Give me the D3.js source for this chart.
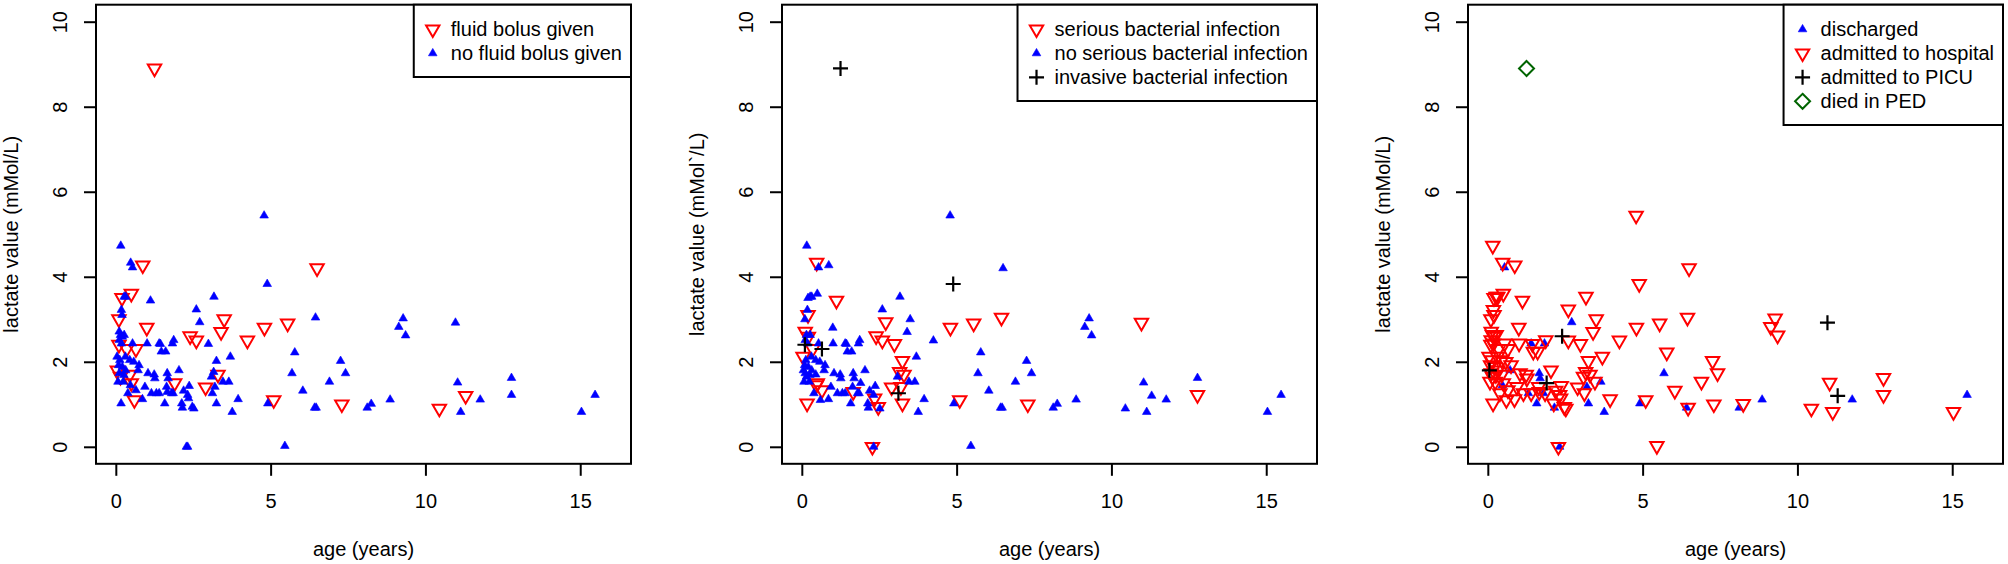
<!DOCTYPE html>
<html>
<head>
<meta charset="utf-8">
<script src="https://cdn.jsdelivr.net/npm/d3@7"></script>
<style>
  body { margin: 0; background: #fff; }
  text { font-family: "Liberation Sans", Arial, sans-serif; }
</style>
</head>
<body>
<svg id="chart" width="2008" height="564"></svg>
<script>
// one entry per patient
const age = [
  1.25, 0.87, 6.5, 0.5, 0.2, 0.1, 1.0, 3.5, 3.4, 4.8,
  5.55, 2.4, 2.6, 4.25, 0.1, 0.35, 0.65, 0.05, 0.15, 0.45,
  0.5, 0.6, 1.9, 2.9, 3.3, 5.1, 7.3, 10.45, 11.3,
  0.16, 0.48, 0.54, 4.79, 4.89, 1.12, 0.27, 0.32, 0.18, 0.2,
  3.17, 2.6, 2.71, 6.45, 0.11, 0.15, 0.21, 0.27, 0.11, 0.18,
  0.54, 1.01, 1.4, 1.44, 1.87, 1.83, 1.47, 1.61, 2.99, 5.78,
  3.25, 3.7, 0.04, 0.13, 0.31, 0.45, 0.58, 0.75, 0.72, 0.09,
  0.21, 0.11, 0.26, 0.32, 0.07, 0.24, 0.47, 0.65, 0.39, 0.17,
  0.86, 0.94, 1.04, 1.24, 1.26, 1.15, 1.31, 1.4, 1.58, 1.66,
  1.69, 1.64, 1.66, 1.8, 1.85, 2.04, 2.13, 2.15, 2.19, 2.37,
  2.35, 2.47, 2.52, 2.32, 2.28, 2.32, 3.09, 3.16, 3.12, 3.25,
  3.2, 3.46, 3.65, 3.95, 3.76, 4.91, 5.46, 5.69, 6.04, 6.42,
  6.47, 6.9, 7.26, 7.42, 8.12, 8.25, 8.86, 9.14, 9.28, 9.36,
  10.97, 11.04, 11.14, 11.77, 12.78, 12.78, 15.04, 15.48
];
const lactate = [
  8.9, 4.27, 4.2, 3.6, 3.5, 3.0, 2.8, 3.0, 2.7, 2.8,
  2.9, 2.6, 2.5, 2.5, 2.4, 2.3, 2.3, 1.8, 1.65, 1.7,
  1.5, 1.1, 1.5, 1.4, 1.7, 1.1, 1.0, 0.9, 1.2,
  4.73, 4.33, 4.22, 5.44, 3.83, 3.44, 3.53, 3.53, 3.22, 3.1,
  3.53, 3.23, 2.93, 3.04, 2.71, 2.63, 2.59, 2.63, 2.51, 2.43,
  2.43, 2.43, 2.43, 2.42, 2.51, 2.43, 2.24, 2.24, 2.42, 2.22,
  2.02, 2.12, 2.12, 2.04, 2.12, 2.04, 2.0, 1.92, 1.8, 1.92,
  1.88, 1.73, 1.69, 1.8, 1.53, 1.53, 1.45, 1.33, 1.26, 1.02,
  1.12, 1.41, 1.73, 1.7, 1.61, 1.26, 1.26, 1.26, 1.02, 1.73,
  1.61, 1.41, 1.29, 1.26, 1.26, 1.8, 1.02, 0.92, 1.32, 1.43,
  1.14, 0.94, 0.9, 1.22, 0.0, 0.0, 1.65, 1.76, 1.26, 1.02,
  1.41, 1.53, 1.53, 1.12, 0.82, 1.02, 0.02, 1.73, 1.32, 0.92,
  0.92, 1.53, 2.02, 1.73, 0.92, 1.01, 1.11, 2.82, 3.02, 2.62,
  2.92, 1.51, 0.82, 1.11, 1.62, 1.22, 0.82, 1.22
];
// 0 = fluid bolus given, 1 = no fluid bolus given
const bolus = [
  0, 0, 0, 0, 0, 0, 0, 0, 0, 0,
  0, 0, 0, 0, 0, 0, 0, 0, 0, 0,
  0, 0, 0, 0, 0, 0, 0, 0, 0,
  1, 1, 1, 1, 1, 1, 1, 1, 1, 1,
  1, 1, 1, 1, 1, 1, 1, 1, 1, 1,
  1, 1, 1, 1, 1, 1, 1, 1, 1, 1,
  1, 1, 1, 1, 1, 1, 1, 1, 1, 1,
  1, 1, 1, 1, 1, 1, 1, 1, 1, 1,
  1, 1, 1, 1, 1, 1, 1, 1, 1, 1,
  1, 1, 1, 1, 1, 1, 1, 1, 1, 1,
  1, 1, 1, 1, 1, 1, 1, 1, 1, 1,
  1, 1, 1, 1, 1, 1, 1, 1, 1, 1,
  1, 1, 1, 1, 1, 1, 1, 1, 1, 1,
  1, 1, 1, 1, 1, 1, 1, 1
];
// 0 = serious, 1 = no serious, 2 = invasive bacterial infection
const infection = [
  2, 1, 1, 1, 1, 1, 1, 1, 1, 0,
  0, 0, 0, 1, 2, 0, 2, 1, 1, 1,
  0, 1, 1, 0, 0, 0, 0, 1, 1,
  1, 0, 1, 1, 2, 0, 1, 1, 1, 0,
  1, 1, 0, 0, 0, 1, 0, 1, 1, 1,
  1, 1, 1, 1, 1, 1, 1, 1, 0, 1,
  0, 1, 0, 1, 1, 1, 1, 1, 1, 1,
  1, 1, 1, 1, 1, 1, 0, 0, 1, 0,
  1, 1, 1, 1, 1, 1, 1, 1, 1, 1,
  1, 1, 0, 1, 1, 1, 1, 1, 1, 1,
  0, 0, 1, 1, 0, 1, 1, 0, 2, 0,
  0, 1, 1, 1, 1, 1, 1, 1, 1, 1,
  1, 1, 1, 1, 1, 1, 1, 1, 1, 1,
  0, 1, 1, 1, 1, 0, 1, 1
];
// 0 = discharged, 1 = admitted to hospital, 2 = admitted to PICU, 3 = died in PED
const outcome = [
  3, 1, 1, 1, 1, 1, 1, 1, 1, 1,
  1, 2, 1, 1, 1, 1, 1, 2, 1, 1,
  1, 1, 2, 1, 1, 1, 1, 1, 2,
  1, 1, 0, 1, 1, 1, 1, 1, 1, 1,
  1, 1, 0, 1, 1, 1, 1, 1, 1, 1,
  1, 1, 0, 1, 1, 0, 1, 1, 1, 1,
  1, 1, 1, 1, 1, 1, 1, 1, 0, 1,
  1, 1, 1, 1, 1, 1, 0, 1, 1, 1,
  1, 1, 1, 1, 1, 1, 0, 1, 0, 0,
  0, 1, 1, 0, 1, 1, 1, 0, 1, 1,
  1, 1, 1, 1, 1, 0, 1, 1, 1, 0,
  0, 1, 0, 1, 0, 0, 1, 0, 1, 0,
  1, 1, 1, 1, 0, 1, 0, 1, 1, 1,
  2, 1, 1, 0, 1, 1, 1, 0
];

const bolusLabels = ["fluid bolus given", "no fluid bolus given"];
const infectionLabels = ["serious bacterial infection", "no serious bacterial infection", "invasive bacterial infection"];
const outcomeLabels = ["discharged", "admitted to hospital", "admitted to PICU", "died in PED"];

const xTicks = [0, 5, 10, 15];
const yTicks = [0, 2, 4, 6, 8, 10];
const xTitle = "age (years)";
const yTitles = ["lactate value (mMol/L)", "lactate value (mMol`/L)", "lactate value (mMol/L)"];

// marker shapes, drawn around 0,0
const marks = {
  down: { d: "M0,7.8L6.7,-3.9L-6.7,-3.9Z", fill: "none", stroke: "#ff0000", sw: 2 },
  up: { d: "M0,-4.9L4.3,2.5L-4.3,2.5Z", fill: "#0000ff", stroke: "#0000ff", sw: 0.6 },
  plus: { d: "M-7.5,0H7.5M0,-7.5V7.5", fill: "none", stroke: "#000", sw: 2.2 },
  diamond: { d: "M0,-7.5L7.5,0L0,7.5L-7.5,0Z", fill: "none", stroke: "#006400", sw: 2 }
};

const panels = [
  { codes: bolus, labels: bolusLabels, shapes: ["down", "up"] },
  { codes: infection, labels: infectionLabels, shapes: ["down", "up", "plus"] },
  { codes: outcome, labels: outcomeLabels, shapes: ["up", "down", "plus", "diamond"] }
];

const svg = d3.select("#chart");
const boxTop = 4.7, boxBottom = 463.8, boxWidth = 535;

function drawMark(g, shape, x, y) {
  const m = marks[shape];
  g.append("path")
    .attr("d", m.d)
    .attr("transform", `translate(${x},${y})`)
    .attr("fill", m.fill)
    .attr("stroke", m.stroke)
    .attr("stroke-width", m.sw);
}

function createPanel(p, i) {
  const left = 96 + i * 686;
  const g = svg.append("g");

  const x = d3.scaleLinear().domain([-0.64, 16.64]).range([left, left + boxWidth]);
  const y = d3.scaleLinear().domain([-0.4, 10.4]).range([boxBottom, boxTop]);

  // axes
  const xAxis = g.append("g")
    .attr("transform", `translate(0,${boxBottom})`)
    .call(d3.axisBottom(x).tickValues(xTicks).tickSize(12).tickPadding(18));
  const yAxis = g.append("g")
    .attr("transform", `translate(${left},0)`)
    .call(d3.axisLeft(y).tickValues(yTicks).tickSize(12));

  [xAxis, yAxis].forEach((a) => {
    a.select(".domain").remove();
    a.selectAll("line").attr("stroke", "#000").attr("stroke-width", 2);
    a.selectAll("text")
      .attr("fill", "#000")
      .style("font-family", "'Liberation Sans', Arial, sans-serif")
      .style("font-size", "20px");
  });
  yAxis.selectAll("text")
    .attr("x", null).attr("dy", null)
    .attr("text-anchor", "middle")
    .attr("transform", "translate(-29.3,0) rotate(-90)");

  // points, one group after another as in the legend
  p.labels.forEach((lab, code) => {
    age.forEach((a, k) => {
      if (p.codes[k] === code) drawMark(g, p.shapes[code], x(a), y(lactate[k]));
    });
  });

  // box
  g.append("rect")
    .attr("x", x.range()[0]).attr("y", boxTop)
    .attr("width", boxWidth).attr("height", boxBottom - boxTop)
    .attr("fill", "none").attr("stroke", "#000").attr("stroke-width", 2);

  // titles
  g.append("text")
    .attr("x", left + boxWidth / 2).attr("y", 556)
    .attr("text-anchor", "middle").attr("font-size", 20)
    .text(xTitle);
  g.append("text")
    .attr("transform", `translate(${left - 78.5},${(boxTop + boxBottom) / 2}) rotate(-90)`)
    .attr("text-anchor", "middle").attr("font-size", 20)
    .text(yTitles[i]);

  // legend, top right corner
  const right = left + boxWidth;
  const leg = g.append("g");
  const frame = leg.append("rect");
  const texts = p.labels.map((lab, k) =>
    leg.append("text")
      .attr("y", boxTop + 24.6 + 24 * k + 6.6)
      .attr("font-size", 20)
      .text(lab));
  const maxW = d3.max(texts, (t) => t.node().getComputedTextLength());
  const legLeft = right - maxW - 37 - 9;
  texts.forEach((t) => t.attr("x", legLeft + 37));
  p.labels.forEach((lab, k) => drawMark(leg, p.shapes[k], legLeft + 19, boxTop + 24.6 + 24 * k));
  frame
    .attr("x", legLeft).attr("y", boxTop)
    .attr("width", right - legLeft).attr("height", 24 * p.labels.length + 24.3)
    .attr("fill", "#fff").attr("stroke", "#000").attr("stroke-width", 2);
}

panels.forEach(createPanel);
</script>
</body>
</html>
